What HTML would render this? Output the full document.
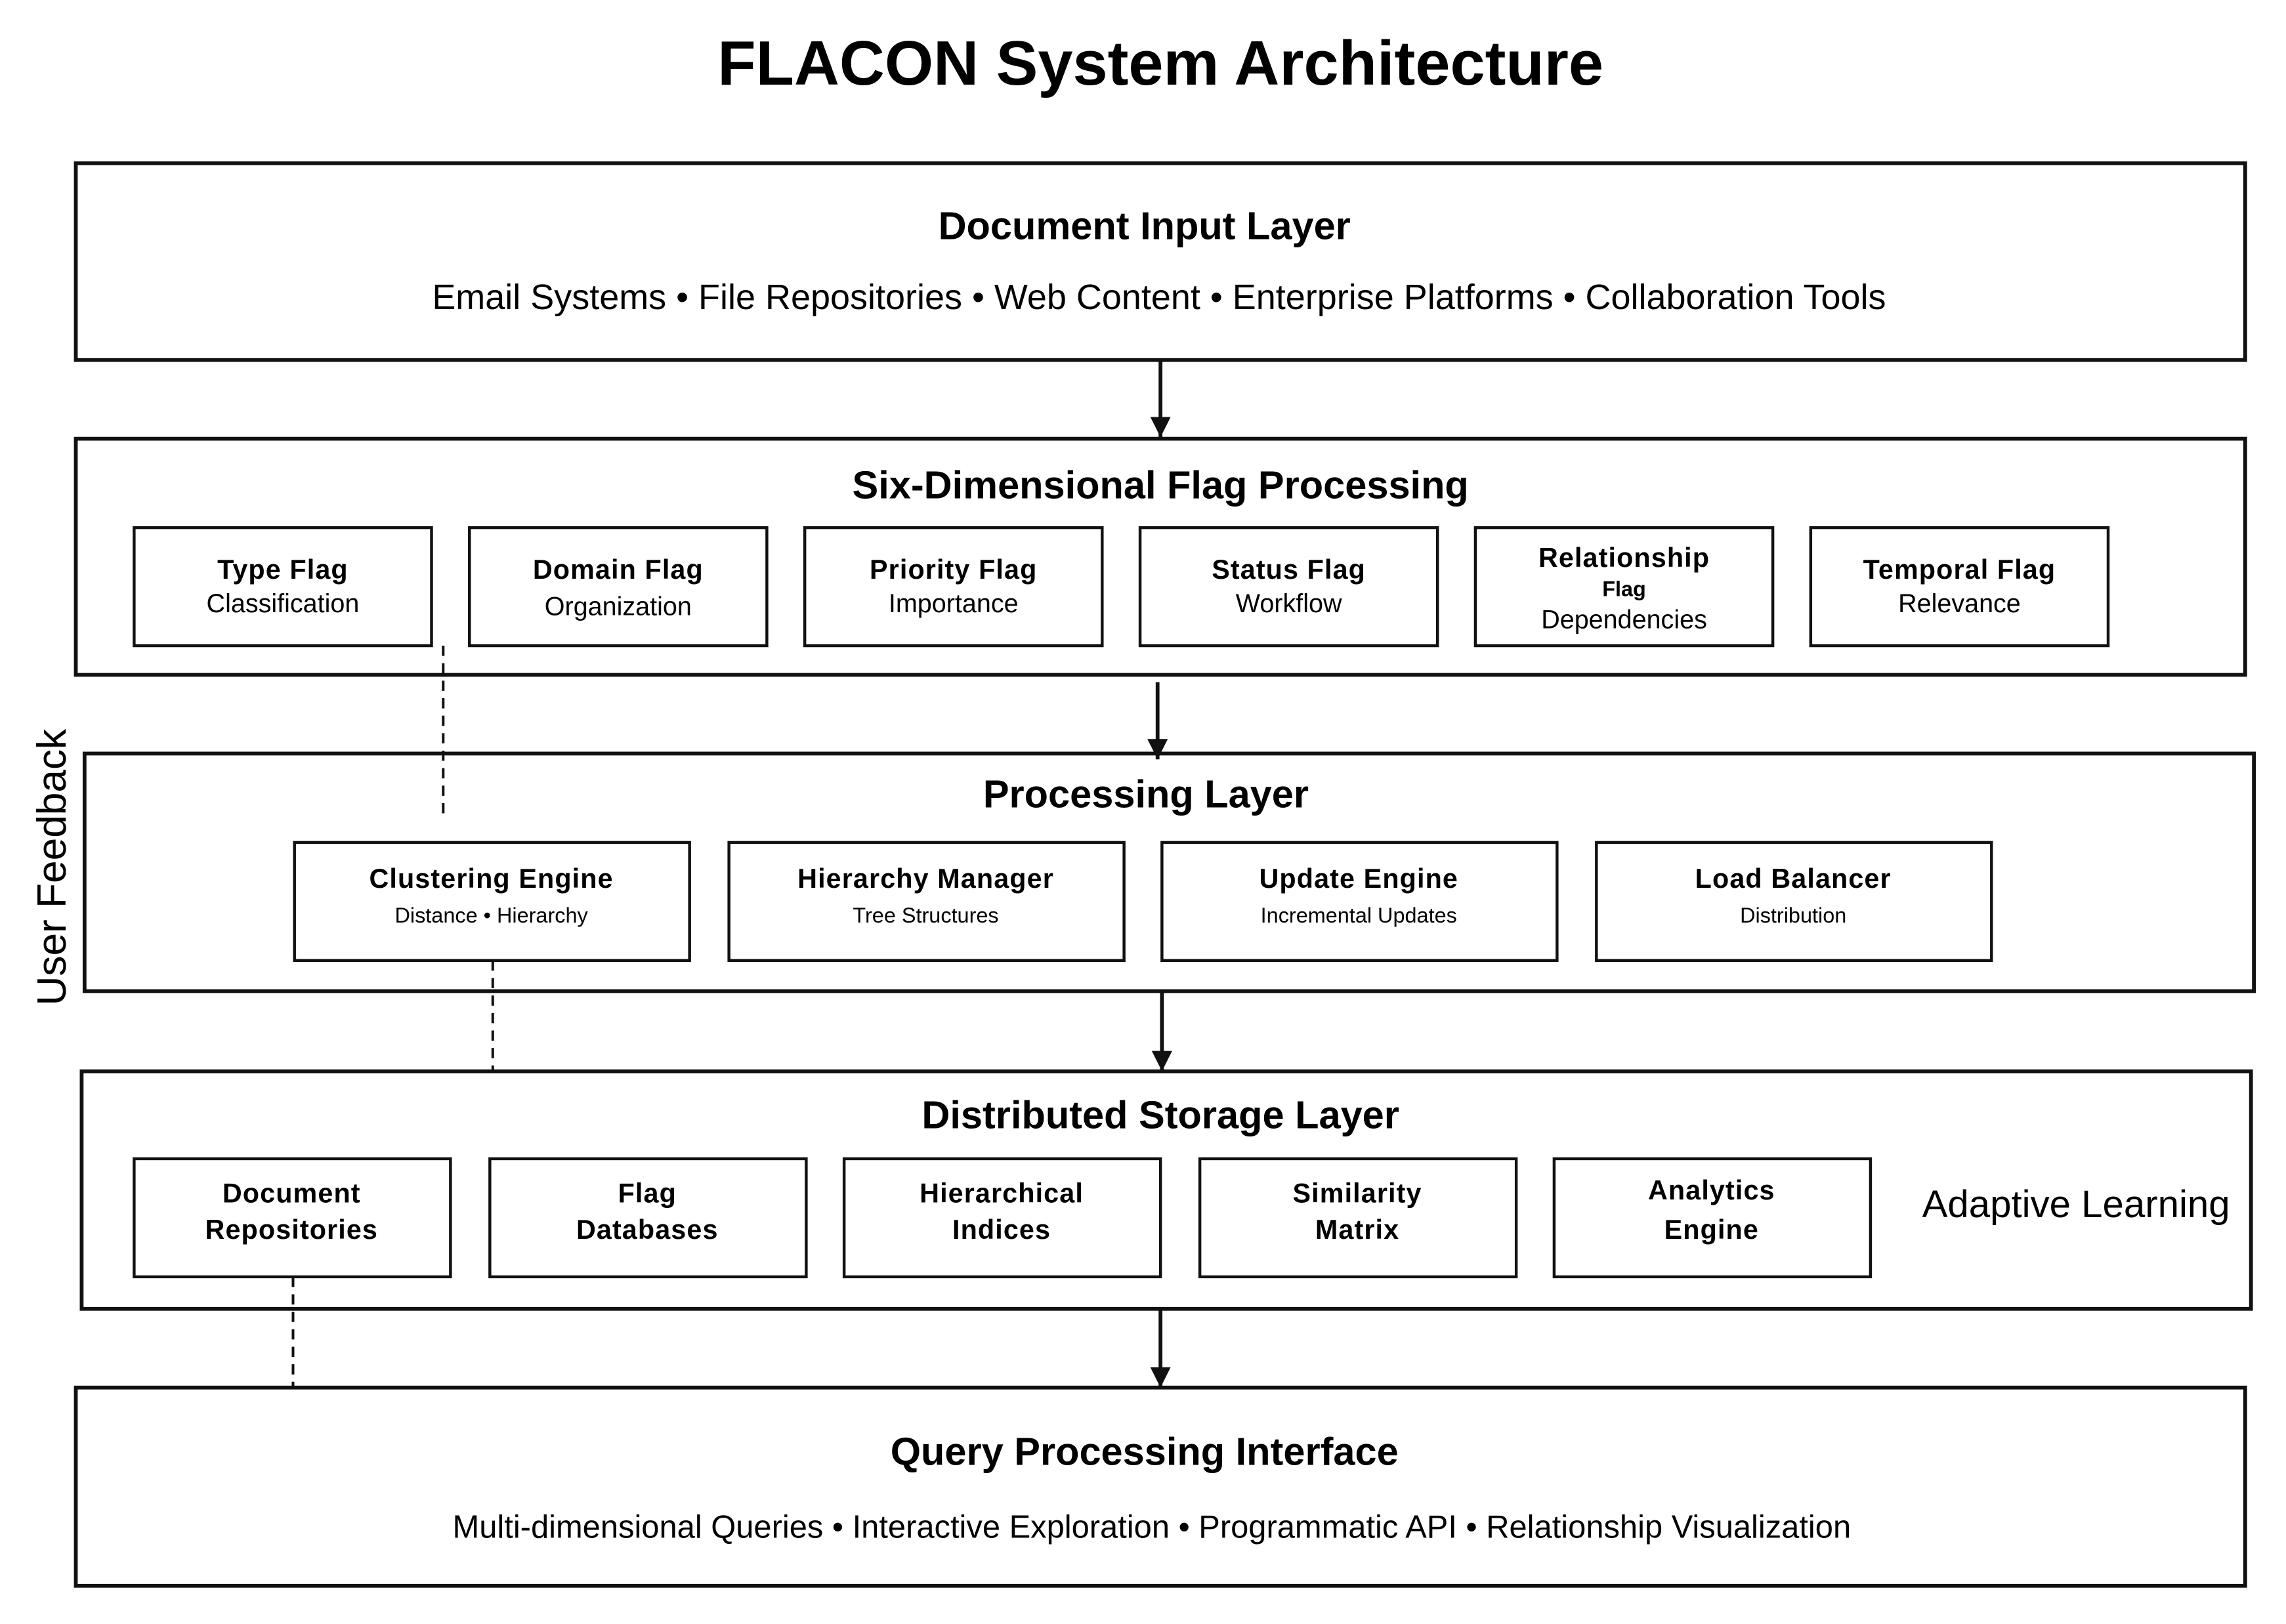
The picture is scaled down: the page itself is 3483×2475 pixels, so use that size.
<!DOCTYPE html>
<html><head><meta charset="utf-8"><style>
html,body{margin:0;padding:0;background:#fff;}
svg{display:block;}
text{font-family:"Liberation Sans",Arial,sans-serif;fill:#000;text-anchor:middle;}
.t{font-weight:bold;font-size:26.8px;}
.s{font-size:24.3px;}
.b{font-weight:bold;font-size:18.6px;letter-spacing:0.5px;}
.m{font-size:17.8px;}
.x{font-size:14.6px;}
.o{fill:none;stroke:#111;stroke-width:2.6;}
.i{fill:none;stroke:#111;stroke-width:2;}
.d{stroke:#111;stroke-width:1.8;stroke-dasharray:7,5;}
.a{stroke:#111;stroke-width:2.6;}
</style></head><body>
<svg width="3483" height="2475" viewBox="0 0 1568 1114.2" xmlns="http://www.w3.org/2000/svg">
<defs><marker id="ah" viewBox="0 0 10 10" markerWidth="14" markerHeight="20" refX="10" refY="5" orient="auto" markerUnits="userSpaceOnUse"><path d="M0,0 L10,5 L0,10 z" fill="#111"/></marker></defs>
<rect width="1568" height="1114.2" fill="#fff"/>
<text x="796" y="58" style="font-weight:bold;font-size:43px">FLACON System Architecture</text>

<rect class="o" x="52" y="112" width="1488" height="135"/>
<text class="t" x="785" y="164">Document Input Layer</text>
<text class="s" x="795" y="212">Email Systems • File Repositories • Web Content • Enterprise Platforms • Collaboration Tools</text>
<line class="a" x1="796" y1="247" x2="796" y2="300" marker-end="url(#ah)"/>

<rect class="o" x="52" y="301" width="1488" height="162"/>
<text class="t" x="796" y="342">Six-Dimensional Flag Processing</text>
<rect class="i" x="92" y="362" width="204" height="81"/>
<text class="b" x="194" y="397">Type Flag</text><text class="m" x="194" y="420">Classification</text>
<rect class="i" x="322" y="362" width="204" height="81"/>
<text class="b" x="424" y="397">Domain Flag</text><text class="m" x="424" y="422">Organization</text>
<rect class="i" x="552" y="362" width="204" height="81"/>
<text class="b" x="654" y="397">Priority Flag</text><text class="m" x="654" y="420">Importance</text>
<rect class="i" x="782" y="362" width="204" height="81"/>
<text class="b" x="884" y="397">Status Flag</text><text class="m" x="884" y="420">Workflow</text>
<rect class="i" x="1012" y="362" width="204" height="81"/>
<text class="b" x="1114" y="389">Relationship</text><text class="x" x="1114" y="409" style="font-weight:bold">Flag</text><text class="m" x="1114" y="431">Dependencies</text>
<rect class="i" x="1242" y="362" width="204" height="81"/>
<text class="b" x="1344" y="397">Temporal Flag</text><text class="m" x="1344" y="420">Relevance</text>
<line class="d" x1="304" y1="443" x2="304" y2="558"/>
<line class="a" x1="794" y1="468" x2="794" y2="521" marker-end="url(#ah)"/>

<rect class="o" x="58" y="517" width="1488" height="163"/>
<text class="t" x="786" y="554">Processing Layer</text>
<rect class="i" x="202" y="578" width="271" height="81"/>
<text class="b" x="337" y="609">Clustering Engine</text><text class="x" x="337" y="633">Distance • Hierarchy</text>
<rect class="i" x="500" y="578" width="271" height="81"/>
<text class="b" x="635" y="609">Hierarchy Manager</text><text class="x" x="635" y="633">Tree Structures</text>
<rect class="i" x="797" y="578" width="271" height="81"/>
<text class="b" x="932" y="609">Update Engine</text><text class="x" x="932" y="633">Incremental Updates</text>
<rect class="i" x="1095" y="578" width="271" height="81"/>
<text class="b" x="1230" y="609">Load Balancer</text><text class="x" x="1230" y="633">Distribution</text>
<line class="d" x1="338" y1="659" x2="338" y2="735"/>
<line class="a" x1="797" y1="680" x2="797" y2="735" marker-end="url(#ah)"/>

<text x="0" y="0" style="font-size:28px" transform="translate(45,595) rotate(-90)">User Feedback</text>

<rect class="o" x="56" y="735" width="1488" height="163"/>
<text class="t" x="796" y="774">Distributed Storage Layer</text>
<rect class="i" x="92" y="795" width="217" height="81"/>
<text class="b" x="200" y="825">Document</text><text class="b" x="200" y="850">Repositories</text>
<rect class="i" x="336" y="795" width="217" height="81"/>
<text class="b" x="444" y="825">Flag</text><text class="b" x="444" y="850">Databases</text>
<rect class="i" x="579" y="795" width="217" height="81"/>
<text class="b" x="687" y="825">Hierarchical</text><text class="b" x="687" y="850">Indices</text>
<rect class="i" x="823" y="795" width="217" height="81"/>
<text class="b" x="931" y="825">Similarity</text><text class="b" x="931" y="850">Matrix</text>
<rect class="i" x="1066" y="795" width="217" height="81"/>
<text class="b" x="1174" y="823">Analytics</text><text class="b" x="1174" y="850">Engine</text>
<text x="1424" y="835" style="font-size:26.2px">Adaptive Learning</text>
<line class="d" x1="201" y1="876" x2="201" y2="952"/>
<line class="a" x1="796" y1="898" x2="796" y2="952" marker-end="url(#ah)"/>

<rect class="o" x="52" y="952" width="1488" height="136"/>
<text class="t" x="785" y="1005">Query Processing Interface</text>
<text x="790" y="1055" style="font-size:22px">Multi-dimensional Queries • Interactive Exploration • Programmatic API • Relationship Visualization</text>
</svg>
</body></html>
